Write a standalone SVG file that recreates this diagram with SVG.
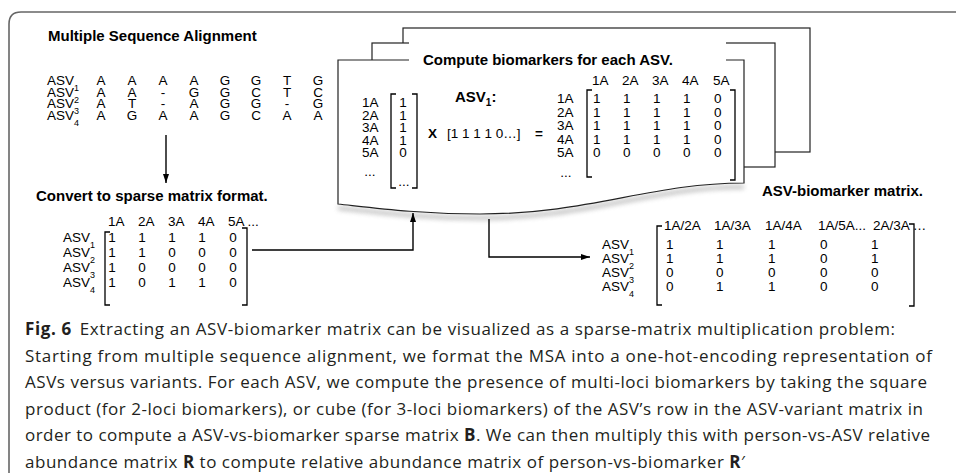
<svg xmlns="http://www.w3.org/2000/svg" width="956" height="476" viewBox="0 0 956 476">
<style>
  text { font-family: "Liberation Sans", Arial, sans-serif; fill: #000; }
  .t { font-size: 13.5px; }
  .m { font-size: 13.5px; text-anchor: middle; }
  .h { font-size: 15px; font-weight: bold; }
  .sub { font-size: 9px; }
  .br { fill: none; stroke: #000; stroke-width: 1.3; }
  .card { fill: #fff; stroke: #222; stroke-width: 1.2; }
  .wire { fill: none; stroke: #000; stroke-width: 1.4; }
  .frame { fill: none; stroke: #666; stroke-width: 1.6; }
  .cap { font-family: "Open Sans", "Noto Sans", sans-serif; font-size: 17px; fill: #231f20; }
  .b { font-weight: bold; }
</style>
<defs>
  <marker id="arr" viewBox="0 0 9 6" refX="9" refY="3" markerWidth="9" markerHeight="6" markerUnits="userSpaceOnUse" orient="auto">
    <path d="M0 0 L9 3 L0 6 Z" fill="#000"/>
  </marker>
  <filter id="soft" x="-10%" y="-50%" width="120%" height="200%">
    <feGaussianBlur stdDeviation="2.5"/>
  </filter>
</defs>

<!-- open frame: rounded top-left corner -->
<path class="frame" d="M9 473 V24 Q9 12 21 12 H956"/>

<!-- multiple sequence alignment -->
<g id="msa">
  <text class="h" x="48" y="41">Multiple Sequence Alignment</text>
  <text class="t" x="47" y="85">ASV<tspan class="sub" dy="6">1</tspan></text>
  <text class="t" x="47" y="96.5">ASV<tspan class="sub" dy="6">2</tspan></text>
  <text class="t" x="47" y="108">ASV<tspan class="sub" dy="6">3</tspan></text>
  <text class="t" x="47" y="119.5">ASV<tspan class="sub" dy="6">4</tspan></text>
  <text class="m" y="85"><tspan x="101">A</tspan><tspan x="132">A</tspan><tspan x="163">A</tspan><tspan x="194">A</tspan><tspan x="225">G</tspan><tspan x="256">G</tspan><tspan x="287">T</tspan><tspan x="318">G</tspan></text>
  <text class="m" y="96.5"><tspan x="101">A</tspan><tspan x="132">A</tspan><tspan x="163">-</tspan><tspan x="194">G</tspan><tspan x="225">G</tspan><tspan x="256">C</tspan><tspan x="287">T</tspan><tspan x="318">C</tspan></text>
  <text class="m" y="108"><tspan x="101">A</tspan><tspan x="132">T</tspan><tspan x="163">-</tspan><tspan x="194">A</tspan><tspan x="225">G</tspan><tspan x="256">G</tspan><tspan x="287">-</tspan><tspan x="318">G</tspan></text>
  <text class="m" y="119.5"><tspan x="101">A</tspan><tspan x="132">G</tspan><tspan x="163">A</tspan><tspan x="194">A</tspan><tspan x="225">G</tspan><tspan x="256">C</tspan><tspan x="287">A</tspan><tspan x="318">A</tspan></text>
</g>

<!-- ASV x variant sparse matrix -->
<g id="sparse">
  <text class="h" x="36" y="201">Convert to sparse matrix format.</text>
  <text class="t" y="226"><tspan x="108">1A</tspan><tspan x="138">2A</tspan><tspan x="168">3A</tspan><tspan x="198">4A</tspan><tspan x="228">5A ...</tspan></text>
  <text class="t" x="63" y="242">ASV<tspan class="sub" dy="6">1</tspan></text>
  <text class="t" x="63" y="257">ASV<tspan class="sub" dy="6">2</tspan></text>
  <text class="t" x="63" y="272">ASV<tspan class="sub" dy="6">3</tspan></text>
  <text class="t" x="63" y="287">ASV<tspan class="sub" dy="6">4</tspan></text>
  <text class="m" y="242"><tspan x="112">1</tspan><tspan x="142">1</tspan><tspan x="172">1</tspan><tspan x="202">1</tspan><tspan x="233">0</tspan></text>
  <text class="m" y="257"><tspan x="112">1</tspan><tspan x="142">1</tspan><tspan x="172">0</tspan><tspan x="202">0</tspan><tspan x="233">0</tspan></text>
  <text class="m" y="272"><tspan x="112">1</tspan><tspan x="142">0</tspan><tspan x="172">0</tspan><tspan x="202">0</tspan><tspan x="233">0</tspan></text>
  <text class="m" y="287"><tspan x="112">1</tspan><tspan x="142">0</tspan><tspan x="172">1</tspan><tspan x="202">1</tspan><tspan x="233">0</tspan></text>
  <path class="br" d="M110 232 H105 V305 H110"/>
  <path class="br" d="M242 228 H247 V305 H242"/>
</g>

<!-- stacked cards: per-ASV biomarker computation -->
<g id="compute">
  <rect class="card" x="403" y="28" width="407" height="124"/>
  <rect class="card" x="372" y="43" width="403" height="124"/>
  <path d="M744 187 C650 187 590 218 480 218 C420 218 375 212 338 208" fill="none" stroke="#777" stroke-width="3" opacity="0.6" filter="url(#soft)"/>
  <path class="card" d="M338 60 H744 V183 C650 183 590 214 480 214 C420 214 375 208 338 204 Z"/>
  <rect x="409" y="36" width="317" height="27" fill="#fff"/>
  <text class="h" x="423" y="65">Compute biomarkers for each ASV.</text>

  <!-- column vector -->
  <text class="t" x="362" y="107">1A</text>
  <text class="t" x="362" y="119.5">2A</text>
  <text class="t" x="362" y="132">3A</text>
  <text class="t" x="362" y="144.5">4A</text>
  <text class="t" x="362" y="157">5A</text>
  <text class="m" x="370" y="176">...</text>
  <text class="m" y="107" x="403">1</text>
  <text class="m" y="119.5" x="403">1</text>
  <text class="m" y="132" x="403">1</text>
  <text class="m" y="144.5" x="403">1</text>
  <text class="m" y="157" x="403">0</text>
  <text class="m" y="186" x="404">...</text>
  <path class="br" d="M396 94 H391 V188 H396"/>
  <path class="br" d="M412 94 H417 V188 H412"/>

  <text class="h" x="455" y="102">ASV<tspan font-size="10" dy="4">1</tspan><tspan dy="-4">:</tspan></text>
  <text class="t" y="138"><tspan class="b" x="428">X</tspan><tspan x="447">[1 1 1 1 0…]</tspan><tspan class="b" x="535">=</tspan></text>

  <!-- outer-product matrix -->
  <text class="t" y="85"><tspan x="592">1A</tspan><tspan x="622">2A</tspan><tspan x="652">3A</tspan><tspan x="682">4A</tspan><tspan x="713">5A</tspan></text>
  <text class="t" x="557" y="103">1A</text>
  <text class="t" x="557" y="116.5">2A</text>
  <text class="t" x="557" y="130">3A</text>
  <text class="t" x="557" y="143.5">4A</text>
  <text class="t" x="557" y="157">5A</text>
  <text class="m" x="566" y="177">...</text>
  <text class="t" y="103"><tspan x="593">1</tspan><tspan x="623">1</tspan><tspan x="653">1</tspan><tspan x="683">1</tspan><tspan x="714">0</tspan></text>
  <text class="t" y="116.5"><tspan x="593">1</tspan><tspan x="623">1</tspan><tspan x="653">1</tspan><tspan x="683">1</tspan><tspan x="714">0</tspan></text>
  <text class="t" y="130"><tspan x="593">1</tspan><tspan x="623">1</tspan><tspan x="653">1</tspan><tspan x="683">1</tspan><tspan x="714">0</tspan></text>
  <text class="t" y="143.5"><tspan x="593">1</tspan><tspan x="623">1</tspan><tspan x="653">1</tspan><tspan x="683">1</tspan><tspan x="714">0</tspan></text>
  <text class="t" y="157"><tspan x="593">0</tspan><tspan x="623">0</tspan><tspan x="653">0</tspan><tspan x="683">0</tspan><tspan x="714">0</tspan></text>
  <path class="br" d="M592 90 H587 V177 H592"/>
  <path class="br" d="M730 90 H735 V180 H730"/>
</g>

<!-- ASV x biomarker matrix -->
<g id="asv-biomarker">
  <text class="h" x="762" y="196">ASV-biomarker matrix.</text>
  <text class="t" y="230"><tspan x="664">1A/2A</tspan><tspan x="714">1A/3A</tspan><tspan x="765">1A/4A</tspan><tspan x="818">1A/5A...</tspan><tspan x="873">2A/3A …</tspan></text>
  <text class="t" x="602" y="249">ASV<tspan class="sub" dy="6">1</tspan></text>
  <text class="t" x="602" y="263">ASV<tspan class="sub" dy="6">2</tspan></text>
  <text class="t" x="602" y="277">ASV<tspan class="sub" dy="6">3</tspan></text>
  <text class="t" x="602" y="291">ASV<tspan class="sub" dy="6">4</tspan></text>
  <text class="t" y="249"><tspan x="666">1</tspan><tspan x="716">1</tspan><tspan x="768">1</tspan><tspan x="820">0</tspan><tspan x="871">1</tspan></text>
  <text class="t" y="263"><tspan x="666">1</tspan><tspan x="716">1</tspan><tspan x="768">1</tspan><tspan x="820">0</tspan><tspan x="871">1</tspan></text>
  <text class="t" y="277"><tspan x="666">0</tspan><tspan x="716">0</tspan><tspan x="768">0</tspan><tspan x="820">0</tspan><tspan x="871">0</tspan></text>
  <text class="t" y="291"><tspan x="666">0</tspan><tspan x="716">1</tspan><tspan x="768">1</tspan><tspan x="820">0</tspan><tspan x="871">0</tspan></text>
  <path class="br" d="M662 226 H657 V305 H662"/>
  <path class="br" d="M909 224 H914 V306 H909"/>
</g>

<!-- connectors -->
<g id="connectors">
  <path class="wire" d="M166 135 V183" marker-end="url(#arr)"/>
  <path class="wire" d="M252 250 H413 V213" marker-end="url(#arr)"/>
  <path class="wire" d="M489 219 V257 H590" marker-end="url(#arr)"/>
</g>

<!-- caption -->
<g id="caption" class="cap">
  <text class="cap" x="25" y="335" textLength="870" lengthAdjust="spacing"><tspan class="b">Fig. 6</tspan><tspan dx="8">Extracting an ASV-biomarker matrix can be visualized as a sparse-matrix multiplication problem:</tspan></text>
  <text class="cap" x="25" y="361.6" textLength="907" lengthAdjust="spacing">Starting from multiple sequence alignment, we format the MSA into a one-hot-encoding representation of</text>
  <text class="cap" x="25" y="388.2" textLength="902" lengthAdjust="spacing">ASVs versus variants. For each ASV, we compute the presence of multi-loci biomarkers by taking the square</text>
  <text class="cap" x="25" y="414.8" textLength="898" lengthAdjust="spacing">product (for 2-loci biomarkers), or cube (for 3-loci biomarkers) of the ASV’s row in the ASV-variant matrix in</text>
  <text class="cap" x="25" y="441.4" textLength="905" lengthAdjust="spacing">order to compute a ASV-vs-biomarker sparse matrix <tspan class="b">B</tspan>. We can then multiply this with person-vs-ASV relative</text>
  <text class="cap" x="25" y="468" textLength="720" lengthAdjust="spacing">abundance matrix <tspan class="b">R</tspan> to compute relative abundance matrix of person-vs-biomarker <tspan class="b">R</tspan>′</text>
</g>
</svg>
